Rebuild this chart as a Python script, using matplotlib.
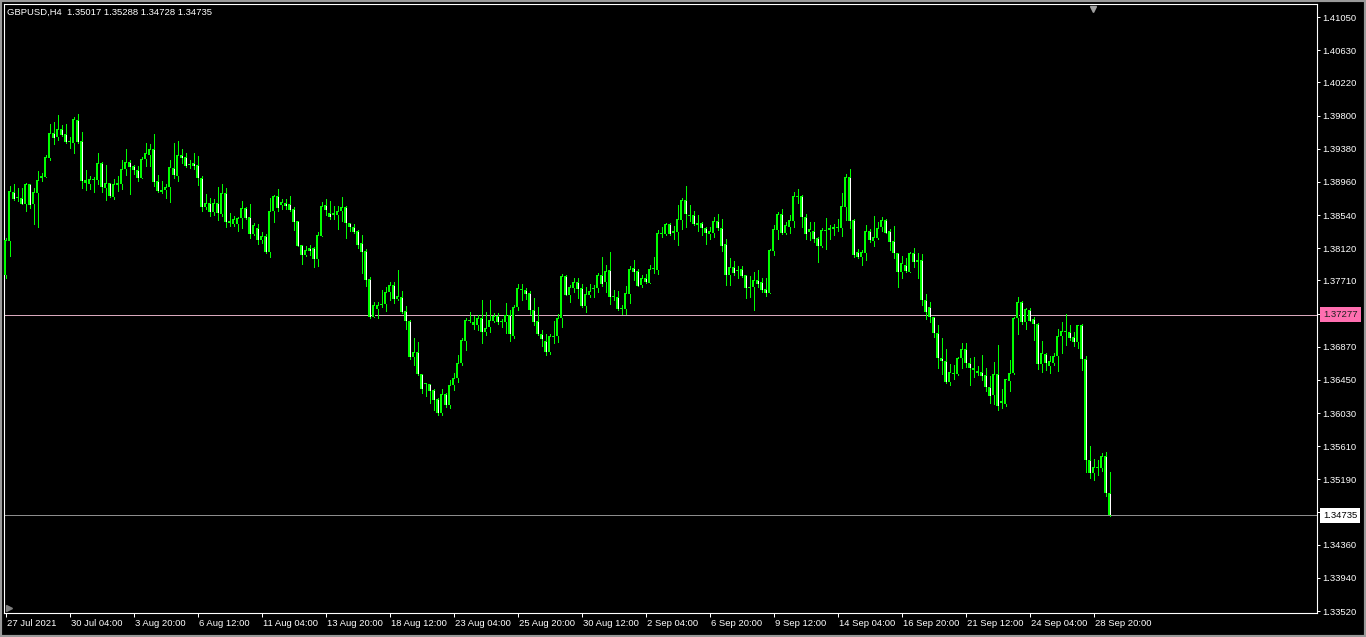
import matplotlib
matplotlib.use("Agg")
import matplotlib.pyplot as plt
import matplotlib.transforms as mtransforms
from matplotlib.patches import Rectangle
import numpy as np

# GBPUSD H4 candles, 27 Jul 2021 12:00 -> 29 Sep 2021 12:00
opens = [
    1.3778, 1.3821, 1.3883, 1.3876, 1.3876, 1.3868, 1.3893, 1.3868, 1.3882, 1.3901,
    1.3902, 1.3926, 1.3958, 1.3953, 1.3963, 1.3957, 1.3948, 1.3945, 1.3974, 1.3948,
    1.3898, 1.3893, 1.3898, 1.3898, 1.3920, 1.3888, 1.3895, 1.3877, 1.3892, 1.3893,
    1.3912, 1.3921, 1.3916, 1.3911, 1.3901, 1.3925, 1.3930, 1.3938, 1.3897, 1.3886,
    1.3886, 1.3890, 1.3914, 1.3904, 1.3930, 1.3927, 1.3918, 1.3920, 1.3917, 1.3901,
    1.3864, 1.3869, 1.3858, 1.3869, 1.3855, 1.3882, 1.3846, 1.3843, 1.3843, 1.3850,
    1.3863, 1.3851, 1.3830, 1.3838, 1.3822, 1.3827, 1.3807, 1.3859, 1.3878, 1.3867,
    1.3869, 1.3868, 1.3862, 1.3846, 1.3816, 1.3803, 1.3812, 1.3812, 1.3798, 1.3827,
    1.3867, 1.3856, 1.3856, 1.3854, 1.3859, 1.3864, 1.3844, 1.3839, 1.3834, 1.3818,
    1.3808, 1.3773, 1.3725, 1.3735, 1.3740, 1.3741, 1.3756, 1.3765, 1.3747, 1.3750,
    1.3732, 1.3720, 1.3674, 1.3680, 1.3652, 1.3641, 1.3640, 1.3632, 1.3621, 1.3603,
    1.3627, 1.3613, 1.3638, 1.3647, 1.3667, 1.3694, 1.3720, 1.3718, 1.3714, 1.3723,
    1.3706, 1.3712, 1.3720, 1.3726, 1.3720, 1.3718, 1.3727, 1.3701, 1.3738, 1.3760,
    1.3759, 1.3755, 1.3733, 1.3720, 1.3703, 1.3694, 1.3680, 1.3701, 1.3701, 1.3723,
    1.3777, 1.3752, 1.3762, 1.3769, 1.3762, 1.3739, 1.3753, 1.3760, 1.3762, 1.3778,
    1.3769, 1.3784, 1.3751, 1.3750, 1.3736, 1.3735, 1.3754, 1.3787, 1.3783, 1.3765,
    1.3774, 1.3768, 1.3786, 1.3784, 1.3830, 1.3830, 1.3843, 1.3831, 1.3832, 1.3848,
    1.3873, 1.3854, 1.3854, 1.3841, 1.3844, 1.3838, 1.3830, 1.3831, 1.3846, 1.3838,
    1.3817, 1.3778, 1.3788, 1.3784, 1.3785, 1.3778, 1.3763, 1.3763, 1.3771, 1.3769,
    1.3760, 1.3755, 1.3808, 1.3835, 1.3855, 1.3831, 1.3839, 1.3846, 1.3878, 1.3878,
    1.3851, 1.3832, 1.3834, 1.3825, 1.3815, 1.3835, 1.3835, 1.3836, 1.3838, 1.3838,
    1.3864, 1.3902, 1.3848, 1.3807, 1.3801, 1.3806, 1.3834, 1.3821, 1.3825, 1.3839,
    1.3848, 1.3834, 1.3821, 1.3806, 1.3782, 1.3791, 1.3782, 1.3806, 1.3797, 1.3797,
    1.3746, 1.3738, 1.3725, 1.3705, 1.3673, 1.3669, 1.3642, 1.3654, 1.3652, 1.3673,
    1.3684, 1.3667, 1.3660, 1.3656, 1.3655, 1.3651, 1.3636, 1.3626, 1.3652, 1.3618,
    1.3614, 1.3643, 1.3654, 1.3723, 1.3744, 1.3718, 1.3733, 1.3722, 1.3716, 1.3665,
    1.3678, 1.3663, 1.3667, 1.3675, 1.3701, 1.3707, 1.3706, 1.3699, 1.3693, 1.3714,
    1.3671, 1.3543, 1.3527, 1.3534, 1.3533, 1.3548, 1.35017,
]
highs = [
    1.3825, 1.3891, 1.3893, 1.3888, 1.3888, 1.3895, 1.3893, 1.3888, 1.3910, 1.3907,
    1.3930, 1.3969, 1.3972, 1.3981, 1.3968, 1.3969, 1.3953, 1.3978, 1.3982, 1.3959,
    1.3911, 1.3904, 1.3902, 1.3932, 1.3921, 1.3917, 1.3895, 1.3900, 1.3904, 1.3924,
    1.3938, 1.3924, 1.3918, 1.3916, 1.3927, 1.3945, 1.3944, 1.3957, 1.3905, 1.3897,
    1.3893, 1.3924, 1.3945, 1.3948, 1.3938, 1.3932, 1.3924, 1.3932, 1.3929, 1.3904,
    1.3881, 1.3876, 1.3874, 1.3890, 1.3893, 1.3888, 1.3856, 1.3853, 1.3852, 1.3872,
    1.3864, 1.3868, 1.3844, 1.3843, 1.3832, 1.3830, 1.3876, 1.3879, 1.3887, 1.3874,
    1.3874, 1.3878, 1.3864, 1.3846, 1.3816, 1.3815, 1.3816, 1.3813, 1.3832, 1.3870,
    1.3874, 1.3872, 1.3865, 1.3865, 1.3877, 1.3865, 1.3844, 1.3843, 1.3835, 1.3829,
    1.3811, 1.3775, 1.3744, 1.3744, 1.3759, 1.3763, 1.3769, 1.3769, 1.3784, 1.3758,
    1.3739, 1.3721, 1.3698, 1.3693, 1.3652, 1.3641, 1.3640, 1.3634, 1.3622, 1.3634,
    1.3628, 1.3645, 1.3654, 1.3676, 1.3698, 1.3723, 1.3731, 1.3726, 1.3727, 1.3746,
    1.3731, 1.3746, 1.3730, 1.3730, 1.3722, 1.3742, 1.3733, 1.3740, 1.3766, 1.3766,
    1.3761, 1.3758, 1.3749, 1.3738, 1.3708, 1.3703, 1.3703, 1.3720, 1.3728, 1.3779,
    1.3778, 1.3765, 1.3774, 1.3774, 1.3766, 1.3763, 1.3766, 1.3765, 1.3781, 1.3801,
    1.3791, 1.3807, 1.3759, 1.3758, 1.3740, 1.3764, 1.3789, 1.3797, 1.3786, 1.3778,
    1.3779, 1.3791, 1.3801, 1.3835, 1.3839, 1.3844, 1.3844, 1.3840, 1.3867, 1.3876,
    1.3891, 1.3867, 1.3859, 1.3854, 1.3845, 1.3839, 1.3839, 1.3851, 1.3855, 1.3849,
    1.3824, 1.3799, 1.3796, 1.3789, 1.3789, 1.3778, 1.3777, 1.3782, 1.3784, 1.3774,
    1.3774, 1.3811, 1.3841, 1.3858, 1.3862, 1.3845, 1.3854, 1.3883, 1.3887, 1.3879,
    1.3855, 1.3845, 1.3845, 1.3826, 1.3838, 1.3850, 1.3841, 1.3843, 1.3849, 1.3882,
    1.3906, 1.3912, 1.3849, 1.3811, 1.3810, 1.3841, 1.3836, 1.3853, 1.3845, 1.3852,
    1.3849, 1.3836, 1.3840, 1.3806, 1.3802, 1.3799, 1.3807, 1.3812, 1.3806, 1.3805,
    1.3754, 1.3744, 1.3725, 1.3715, 1.3698, 1.3684, 1.3665, 1.3664, 1.3674, 1.3692,
    1.3692, 1.3673, 1.3674, 1.3663, 1.3676, 1.3660, 1.3650, 1.3668, 1.3689, 1.3634,
    1.3646, 1.3670, 1.3725, 1.3750, 1.3745, 1.3736, 1.3736, 1.3725, 1.3717, 1.3694,
    1.3679, 1.3675, 1.3679, 1.3709, 1.3718, 1.3728, 1.3715, 1.3706, 1.3714, 1.3716,
    1.3675, 1.3561, 1.3545, 1.3543, 1.3552, 1.3554, 1.35288,
]
lows = [
    1.3774, 1.3802, 1.3873, 1.3872, 1.3868, 1.3859, 1.3863, 1.3843, 1.3839, 1.3897,
    1.3902, 1.3924, 1.3944, 1.3949, 1.3954, 1.3945, 1.3939, 1.3933, 1.3945, 1.3888,
    1.3886, 1.3887, 1.3883, 1.3893, 1.3883, 1.3873, 1.3877, 1.3874, 1.3884, 1.3887,
    1.3905, 1.3881, 1.3906, 1.3897, 1.3901, 1.3916, 1.3916, 1.3891, 1.3883, 1.3882,
    1.3876, 1.3871, 1.3901, 1.3897, 1.3920, 1.3915, 1.3913, 1.3912, 1.3892, 1.3859,
    1.3862, 1.3853, 1.3854, 1.3848, 1.3853, 1.3839, 1.3840, 1.3840, 1.3834, 1.3838,
    1.3849, 1.3825, 1.3829, 1.3817, 1.3818, 1.3806, 1.3801, 1.3845, 1.3859, 1.3862,
    1.3862, 1.3859, 1.3835, 1.3815, 1.3792, 1.3802, 1.3803, 1.3788, 1.3789, 1.3827,
    1.3854, 1.3849, 1.3849, 1.3836, 1.3846, 1.3825, 1.3834, 1.3831, 1.3812, 1.3780,
    1.3764, 1.3723, 1.3725, 1.3723, 1.3737, 1.3732, 1.3746, 1.3742, 1.3746, 1.3730,
    1.3710, 1.3671, 1.3664, 1.3651, 1.3629, 1.3625, 1.3616, 1.3607, 1.3601, 1.3601,
    1.3611, 1.3609, 1.3632, 1.3642, 1.3664, 1.3683, 1.3718, 1.3710, 1.3708, 1.3692,
    1.3702, 1.3706, 1.3718, 1.3716, 1.3712, 1.3705, 1.3694, 1.3698, 1.3733, 1.3746,
    1.3747, 1.3728, 1.3715, 1.3702, 1.3688, 1.3676, 1.3678, 1.3692, 1.3693, 1.3712,
    1.3753, 1.3744, 1.3757, 1.3749, 1.3737, 1.3731, 1.3750, 1.3750, 1.3757, 1.3764,
    1.3757, 1.3741, 1.3746, 1.3734, 1.3728, 1.3728, 1.3742, 1.3772, 1.3764, 1.3763,
    1.3768, 1.3768, 1.3780, 1.3779, 1.3826, 1.3829, 1.3829, 1.3824, 1.3816, 1.3836,
    1.3839, 1.3846, 1.3841, 1.3834, 1.3829, 1.3817, 1.3824, 1.3826, 1.3835, 1.3808,
    1.3765, 1.3765, 1.3778, 1.3774, 1.3775, 1.3749, 1.3750, 1.3733, 1.3763, 1.3757,
    1.3751, 1.3755, 1.3803, 1.3824, 1.3830, 1.3830, 1.3831, 1.3839, 1.3869, 1.3839,
    1.3824, 1.3822, 1.3820, 1.3795, 1.3813, 1.3811, 1.3824, 1.3829, 1.3834, 1.3827,
    1.3848, 1.3838, 1.3801, 1.3799, 1.3791, 1.3797, 1.3820, 1.3815, 1.3824, 1.3834,
    1.3831, 1.3810, 1.3800, 1.3763, 1.3774, 1.3782, 1.3782, 1.3788, 1.3774, 1.3740,
    1.3722, 1.3718, 1.3700, 1.3660, 1.3652, 1.3641, 1.3638, 1.3646, 1.3651, 1.3660,
    1.3661, 1.3638, 1.3649, 1.3651, 1.3645, 1.3631, 1.3616, 1.3615, 1.3607, 1.3609,
    1.3612, 1.3631, 1.3652, 1.3703, 1.3716, 1.3710, 1.3720, 1.3695, 1.3659, 1.3655,
    1.3658, 1.3654, 1.3664, 1.3656, 1.3679, 1.3689, 1.3696, 1.3688, 1.3686, 1.3657,
    1.3528, 1.3521, 1.3518, 1.3525, 1.3529, 1.3498, 1.34728,
]
closes = [
    1.3822, 1.3884, 1.3874, 1.3875, 1.3868, 1.3893, 1.3867, 1.3883, 1.3898, 1.3904,
    1.3927, 1.3958, 1.3952, 1.3963, 1.3956, 1.3946, 1.3947, 1.3976, 1.3946, 1.3897,
    1.3895, 1.3900, 1.3900, 1.3920, 1.3890, 1.3895, 1.3878, 1.3893, 1.3895, 1.3912,
    1.3921, 1.3915, 1.3911, 1.3901, 1.3925, 1.3932, 1.3938, 1.3896, 1.3884, 1.3883,
    1.3890, 1.3915, 1.3905, 1.3930, 1.3926, 1.3916, 1.3917, 1.3916, 1.3901, 1.3864,
    1.3869, 1.3858, 1.3869, 1.3857, 1.3882, 1.3845, 1.3844, 1.3849, 1.3850, 1.3863,
    1.3850, 1.3830, 1.3841, 1.3822, 1.3827, 1.3807, 1.3859, 1.3878, 1.3863, 1.3871,
    1.3865, 1.3860, 1.3845, 1.3815, 1.3803, 1.3810, 1.3808, 1.3798, 1.3829, 1.3865,
    1.3860, 1.3851, 1.3854, 1.3859, 1.3864, 1.3844, 1.3839, 1.3832, 1.3816, 1.3807,
    1.3772, 1.3725, 1.3740, 1.3740, 1.3741, 1.3756, 1.3765, 1.3747, 1.3751, 1.3731,
    1.3720, 1.3674, 1.3680, 1.3652, 1.3633, 1.3640, 1.3631, 1.3619, 1.3603, 1.3627,
    1.3613, 1.3638, 1.3647, 1.3667, 1.3695, 1.3721, 1.3721, 1.3715, 1.3723, 1.3706,
    1.3711, 1.3721, 1.3726, 1.3718, 1.3718, 1.3727, 1.3703, 1.3738, 1.3762, 1.3759,
    1.3754, 1.3733, 1.3718, 1.3703, 1.3697, 1.3680, 1.3701, 1.3700, 1.3723, 1.3777,
    1.3753, 1.3763, 1.3769, 1.3760, 1.3739, 1.3754, 1.3758, 1.3762, 1.3778, 1.3767,
    1.3783, 1.3750, 1.3750, 1.3735, 1.3735, 1.3755, 1.3786, 1.3782, 1.3764, 1.3774,
    1.3769, 1.3786, 1.3785, 1.3831, 1.3831, 1.3843, 1.3830, 1.3834, 1.3849, 1.3873,
    1.3855, 1.3853, 1.3843, 1.3844, 1.3838, 1.3831, 1.3834, 1.3846, 1.3838, 1.3815,
    1.3778, 1.3788, 1.3780, 1.3783, 1.3777, 1.3762, 1.3762, 1.3771, 1.3767, 1.3759,
    1.3755, 1.3810, 1.3836, 1.3855, 1.3831, 1.3841, 1.3848, 1.3878, 1.3877, 1.3851,
    1.3830, 1.3836, 1.3824, 1.3815, 1.3835, 1.3834, 1.3838, 1.3839, 1.3837, 1.3865,
    1.3902, 1.3846, 1.3803, 1.3801, 1.3807, 1.3834, 1.3822, 1.3826, 1.3838, 1.3848,
    1.3831, 1.3820, 1.3806, 1.3782, 1.3793, 1.3783, 1.3806, 1.3795, 1.3795, 1.3746,
    1.3731, 1.3725, 1.3705, 1.3673, 1.3669, 1.3642, 1.3655, 1.3652, 1.3673, 1.3684,
    1.3667, 1.3660, 1.3657, 1.3654, 1.3650, 1.3636, 1.3624, 1.3652, 1.3612, 1.3616,
    1.3646, 1.3654, 1.3723, 1.3744, 1.3718, 1.3735, 1.3720, 1.3716, 1.3665, 1.3679,
    1.3666, 1.3669, 1.3675, 1.3701, 1.3707, 1.3706, 1.3698, 1.3693, 1.3714, 1.3671,
    1.3544, 1.3527, 1.3534, 1.3533, 1.3548, 1.35017, 1.34735,
]

time_labels = ["27 Jul 2021", "30 Jul 04:00", "3 Aug 20:00", "6 Aug 12:00", "11 Aug 04:00",
               "13 Aug 20:00", "18 Aug 12:00", "23 Aug 04:00", "25 Aug 20:00", "30 Aug 12:00",
               "2 Sep 04:00", "6 Sep 20:00", "9 Sep 12:00", "14 Sep 04:00", "16 Sep 20:00",
               "21 Sep 12:00", "24 Sep 04:00", "28 Sep 20:00"]
price_ticks = [1.41050, 1.40630, 1.40220, 1.39800, 1.39380, 1.38960, 1.38540, 1.38120,
               1.37710, 1.37290, 1.36870, 1.36450, 1.36030, 1.35610, 1.35190, 1.34770,
               1.34360, 1.33940, 1.33520]
hline_price = 1.37277
bid_price = 1.34735
symbol = "GBPUSD,H4"

GREEN = "#00ff00"
FONT = "Liberation Sans"
FS = 6.8
W, H = 1366, 637

o = np.array(opens); h = np.array(highs); l = np.array(lows); c = np.array(closes)
n = len(o)
x = np.arange(n)
up = c >= o

fig = plt.figure(figsize=(W / 100, H / 100), dpi=100, facecolor="black")
# plot frame: x 4..1317, y 4..613 px
ax = fig.add_axes([4 / W, (H - 613) / H, 1313 / W, 609 / H])
ax.set_facecolor("black")

x0 = -0.375
ax.set_xlim(x0, x0 + 1313 / 4)
ax.set_ylim(1.33495, 1.41215)
px = (1.41215 - 1.33495) / 609   # one pixel in price units

#wicks
ax.vlines(x, l, h, color=GREEN, lw=0.72, antialiased=False, zorder=2)
#bodies: solid green block, then 1px inner stripe in black (up) / white (down)
lo = np.minimum(o, c); hi = np.maximum(o, c)
body = np.maximum(hi - lo, px)
ax.bar(x, body, bottom=lo, width=0.8, color=GREEN, lw=0, zorder=3, antialiased=False)
inner = (hi - lo) > 2.5 * px
ax.vlines(x[inner], lo[inner] + px, hi[inner] - px,
          color=np.where(up[inner], "black", "white"), lw=0.72, antialiased=False, zorder=4)

#horizontal lines
ax.axhline(hline_price, color="#d8a8bc", lw=0.72, zorder=1)
ax.axhline(bid_price, color="#8c8c8c", lw=0.72, zorder=1)

for s in ax.spines.values():
    s.set_color("white")
    s.set_linewidth(0.8)

ax.yaxis.tick_right()
ax.set_yticks(price_ticks)
hidden = [abs(p - hline_price) < 0.0002 or abs(p - bid_price) < 0.0005 for p in price_ticks]
ax.set_yticklabels(["" if hd else f"{p:.5f}" for p, hd in zip(price_ticks, hidden)])
ax.tick_params(axis="y", colors="white", labelcolor="white", length=2.5, width=0.72,
               pad=1.5, labelsize=FS)
ax.set_xticks(range(0, n, 16))
ax.set_xticklabels(time_labels)
ax.tick_params(axis="x", colors="white", labelcolor="white", length=3, width=0.72,
               pad=1.5, labelsize=FS)
shift = mtransforms.ScaledTranslation(1.5 / 100, 0, fig.dpi_scale_trans)
for lab in ax.get_xticklabels():
    lab.set_horizontalalignment("left")
    lab.set_transform(lab.get_transform() + shift)
for lab in ax.get_xticklabels() + ax.get_yticklabels():
    lab.set_fontfamily(FONT)

#price boxes on the axis
ytr = ax.get_yaxis_transform()
ax.text(1.0048, hline_price, f"{hline_price:.5f}", transform=ytr, ha="left", va="center",
        fontsize=FS, family=FONT, color="#202020", zorder=10, clip_on=False,
        bbox=dict(boxstyle="square,pad=0.3", fc="#ff6fb0", ec="none"))
ax.text(1.0048, bid_price, f"{bid_price:.5f}", transform=ytr, ha="left", va="center",
        fontsize=FS, family=FONT, color="black", zorder=10, clip_on=False,
        bbox=dict(boxstyle="square,pad=0.3", fc="white", ec="none"))

#header
header = f"{symbol}  {opens[-1]:.5f} {highs[-1]:.5f} {lows[-1]:.5f} {closes[-1]:.5f}"
fig.text(7 / W, 1 - 12 / H, header, color="white", fontsize=FS, family=FONT,
         va="center", ha="left")

#chart shift marker and scroll marker
ax.plot([0.8297], [0.9925], marker="v", color="#a0a0a0", ms=4.5, transform=ax.transAxes,
        clip_on=False, zorder=5)
ax.plot([0.004], [0.009], marker=">", color="#808080", ms=4, transform=ax.transAxes,
        clip_on=False, zorder=5)

#window border
fig.patches.append(Rectangle((0, 0), 1, 1, transform=fig.transFigure, fill=False,
                             ec="#9a9a9a", lw=3))

fig.savefig("out.png", dpi=100, facecolor="black")
